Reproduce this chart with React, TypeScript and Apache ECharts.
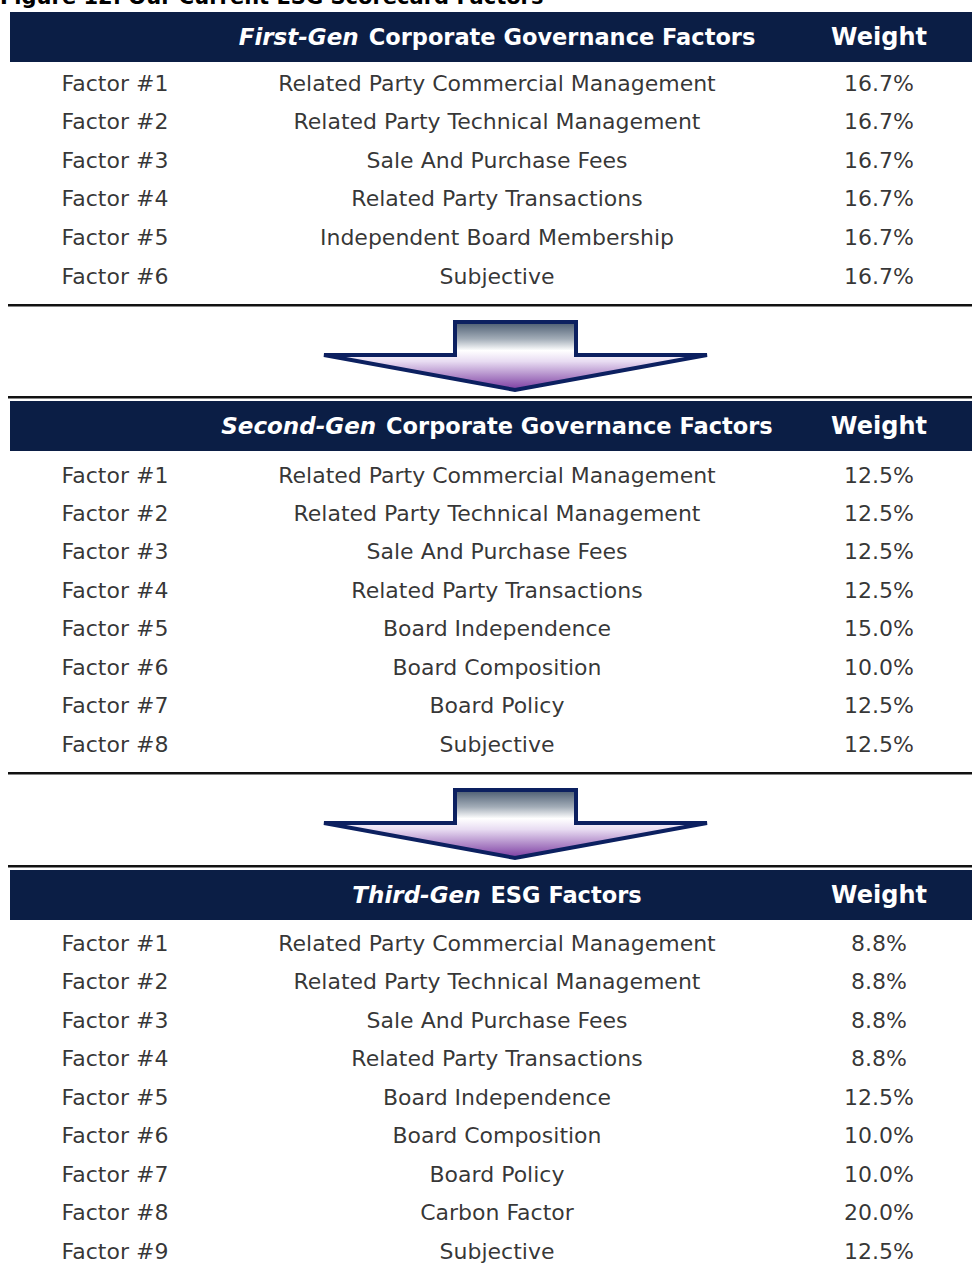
import React, { useEffect, useRef } from "react";
import * as echarts from "echarts";

// ---------- data ----------
const title = "Figure 12: Our Current ESG Scorecard Factors";
const columns = ["Factor", "Name", "Weight"];

const gen1Label = "First-Gen";
const gen1Title = "Corporate Governance Factors";
const gen1Factors = ["Factor #1", "Factor #2", "Factor #3", "Factor #4", "Factor #5", "Factor #6"];
const gen1Names = [
  "Related Party Commercial Management",
  "Related Party Technical Management",
  "Sale And Purchase Fees",
  "Related Party Transactions",
  "Independent Board Membership",
  "Subjective",
];
const gen1Weights = [16.7, 16.7, 16.7, 16.7, 16.7, 16.7];

const gen2Label = "Second-Gen";
const gen2Title = "Corporate Governance Factors";
const gen2Factors = ["Factor #1", "Factor #2", "Factor #3", "Factor #4", "Factor #5", "Factor #6", "Factor #7", "Factor #8"];
const gen2Names = [
  "Related Party Commercial Management",
  "Related Party Technical Management",
  "Sale And Purchase Fees",
  "Related Party Transactions",
  "Board Independence",
  "Board Composition",
  "Board Policy",
  "Subjective",
];
const gen2Weights = [12.5, 12.5, 12.5, 12.5, 15.0, 10.0, 12.5, 12.5];

const gen3Label = "Third-Gen";
const gen3Title = "ESG Factors";
const gen3Factors = ["Factor #1", "Factor #2", "Factor #3", "Factor #4", "Factor #5", "Factor #6", "Factor #7", "Factor #8", "Factor #9"];
const gen3Names = [
  "Related Party Commercial Management",
  "Related Party Technical Management",
  "Sale And Purchase Fees",
  "Related Party Transactions",
  "Board Independence",
  "Board Composition",
  "Board Policy",
  "Carbon Factor",
  "Subjective",
];
const gen3Weights = [8.8, 8.8, 8.8, 8.8, 12.5, 10.0, 10.0, 20.0, 12.5];

const weightHeader = "Weight";

// ---------- styles / layout ----------
const NAVY = "#0b1e45";
const ARROW_NAVY = "#0c2060";
const FONT = "DejaVu Sans";

const sections = [
  { label: gen1Label, title: gen1Title, factors: gen1Factors, names: gen1Names, weights: gen1Weights,
    headerTop: 12, rowTop: 63.7, rowStep: 38.6, lineBelow: 304 },
  { label: gen2Label, title: gen2Title, factors: gen2Factors, names: gen2Names, weights: gen2Weights,
    headerTop: 401, rowTop: 455.8, rowStep: 38.43, lineBelow: 772 },
  { label: gen3Label, title: gen3Title, factors: gen3Factors, names: gen3Names, weights: gen3Weights,
    headerTop: 870, rowTop: 923.8, rowStep: 38.5, lineBelow: null as number | null },
];
const lineAbove = [null, 396, 865];
const arrowTops = [322, 790];

function arrowPoints(top: number): number[][] {
  const cx = 515;
  return [
    [455, top], [576, top], [576, top + 33], [707, top + 33],
    [cx, top + 68], [324, top + 33], [455, top + 33],
  ];
}

export default function App() {
  const ref = useRef<HTMLDivElement>(null);
  useEffect(() => {
    if (!ref.current) return;
    const chart = echarts.init(ref.current, undefined, { renderer: "svg" });

    const grids: any[] = [];
    const xAxes: any[] = [];
    const yAxes: any[] = [];
    const series: any[] = [];
    const graphic: any[] = [];

    graphic.push({
      type: "text", x: 0, y: -3,
      style: { text: title, fill: "#000", font: `bold 21px "${FONT}"`, verticalAlign: "middle", align: "left" },
    });

    sections.forEach((s, si) => {
      const n = s.names.length;
      grids.push({ left: 115, width: 764, top: s.rowTop, height: s.rowStep * n });
      xAxes.push({ type: "category", gridIndex: si, data: columns, show: false, boundaryGap: false });
      yAxes.push({ type: "category", gridIndex: si, data: s.factors, inverse: true, show: false, boundaryGap: true });
      const data: any[] = [];
      for (let i = 0; i < n; i++) {
        data.push([0, i, s.factors[i]]);
        data.push([1, i, s.names[i]]);
        data.push([2, i, s.weights[i].toFixed(1) + "%"]);
      }
      series.push({
        type: "scatter", xAxisIndex: si, yAxisIndex: si, symbolSize: 0, silent: true,
        data,
        label: {
          show: true, position: "inside", formatter: (p: any) => p.value[2],
          color: "#000", fontFamily: FONT, fontSize: 22,
        },
      });

      // header bar
      graphic.push({ type: "rect", shape: { x: 10, y: s.headerTop, width: 962, height: 50 }, style: { fill: NAVY } });
      graphic.push({
        type: "text", x: 497, y: s.headerTop + 25,
        style: {
          text: `{i|${s.label}}   {b|${s.title}}`,
          align: "center", verticalAlign: "middle",
          rich: {
            i: { fill: "#fff", fontFamily: FONT, fontWeight: "bold", fontStyle: "italic", fontSize: 23 },
            b: { fill: "#fff", fontFamily: FONT, fontWeight: "bold", fontSize: 22.5 },
          },
        },
      });
      if (si === 1) {
        graphic.push({ type: "rect", shape: { x: 774, y: s.headerTop, width: 40, height: 50 }, style: { fill: NAVY } });
      }
      graphic.push({
        type: "text", x: 879, y: s.headerTop + 25,
        style: { text: weightHeader, fill: "#fff", font: `bold 24px "${FONT}"`, align: "center", verticalAlign: "middle" },
      });
      const la = lineAbove[si];
      if (la != null) {
        graphic.push({ type: "rect", shape: { x: 8, y: la, width: 964, height: 2.5 }, style: { fill: "#111" } });
      }
      if (s.lineBelow != null) {
        graphic.push({ type: "rect", shape: { x: 8, y: s.lineBelow, width: 964, height: 2.5 }, style: { fill: "#111" } });
      }
    });

    arrowTops.forEach((t) => {
      graphic.push({
        type: "polygon",
        shape: { points: arrowPoints(t) },
        style: {
          fill: new echarts.graphic.LinearGradient(0, 0, 0, 1, [
            { offset: 0, color: "#4a5b70" },
            { offset: 0.25, color: "#a3adb8" },
            { offset: 0.42, color: "#ffffff" },
            { offset: 0.58, color: "#e8dcf2" },
            { offset: 1, color: "#7a3aa0" },
          ]),
          stroke: ARROW_NAVY, lineWidth: 4, lineJoin: "miter",
        },
      });
    });

    chart.setOption({
      animation: false,
      grid: grids,
      xAxis: xAxes,
      yAxis: yAxes,
      series,
      graphic,
    });
    return () => chart.dispose();
  }, []);
  return <div ref={ref} style={{ position: "absolute", left: 0, top: 0, width: 972, height: 1274 }} />;
}
